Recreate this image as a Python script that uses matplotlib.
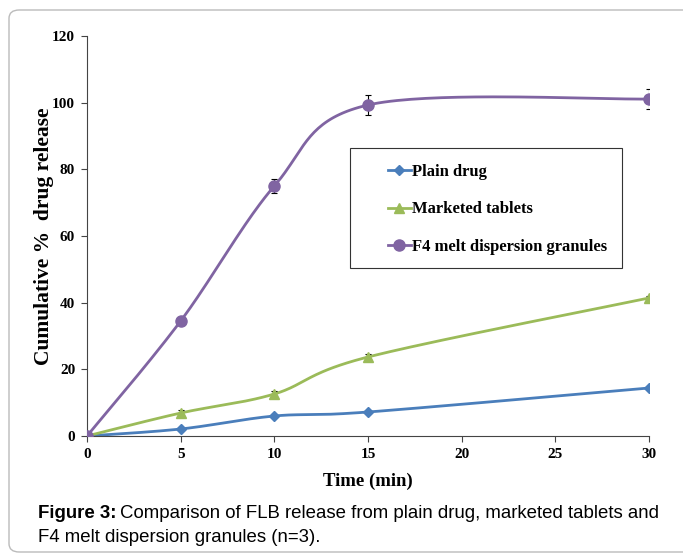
import numpy as np
import matplotlib
matplotlib.use("Agg")
import matplotlib.pyplot as plt
from matplotlib.patches import FancyBboxPatch, Rectangle

time_min = [0, 5, 10, 15, 30]
plain = [0, 2.1, 6.0, 7.2, 14.4]
plain_err = [0, 0, 0, 0, 0]
marketed = [0, 6.9, 12.6, 23.7, 41.4]
marketed_err = [0, 0.8, 1.0, 1.0, 0.6]
f4 = [0, 34.5, 75.0, 99.3, 101.1]
f4_err = [0, 0.8, 2.0, 3.0, 3.0]

labels = ["Plain drug", "Marketed tablets", "F4 melt dispersion granules"]
colours = ["#4a7ebb", "#9bbb59", "#8064a2"]
markers = ["D", "^", "o"]
msizes = [5, 7, 8]


def smooth(x, y, sx=18.73, sy=3.333, n=40):
    # excel-like smoothed line: cubic bezier, catmull-rom control points in screen scale
    p = np.column_stack([np.array(x) * sx, np.array(y) * sy])
    out = []
    for i in range(len(p) - 1):
        p0 = p[i - 1] if i > 0 else p[i]
        p1, p2 = p[i], p[i + 1]
        p3 = p[i + 2] if i + 2 < len(p) else p[i + 1]
        c1 = p1 + (p2 - p0) / 6
        c2 = p2 - (p3 - p1) / 6
        t = np.linspace(0, 1, n)[:, None]
        seg = (1 - t) ** 3 * p1 + 3 * (1 - t) ** 2 * t * c1 + 3 * (1 - t) * t ** 2 * c2 + t ** 3 * p2
        out.append(seg)
    s = np.vstack(out)
    return s[:, 0] / sx, s[:, 1] / sy


fig = plt.figure(figsize=(6.83, 5.55), dpi=100)

# rounded frame around the figure
frame = FancyBboxPatch((9 / 683, 3 / 555), 700 / 683, 542 / 555,
                       boxstyle="round,pad=0,rounding_size=0.015",
                       transform=fig.transFigure, fill=False,
                       edgecolor="#bbbbbb", linewidth=1.0)
fig.patches.append(frame)

ax = fig.add_axes([87 / 683, 1 - 436 / 555, 562 / 683, 400 / 555])

series = [(plain, plain_err), (marketed, marketed_err), (f4, f4_err)]
handles = []
for (vals, err), lab, c, m, ms in zip(series, labels, colours, markers, msizes):
    sx, sy = smooth(time_min, vals)
    ax.plot(sx, sy, color=c, lw=2, zorder=2)
    ax.errorbar(time_min, vals, yerr=err, fmt="none", ecolor="black",
                elinewidth=0.8, capsize=2.5, capthick=0.8, zorder=3)
    ax.plot(time_min, vals, ls="none", marker=m, ms=ms, color=c, zorder=4)
    h, = ax.plot([], [], color=c, lw=2, marker=m, ms=ms)
    handles.append(h)

ax.set_xlim(0, 30)
ax.set_ylim(0, 120)
ax.set_xticks([0, 5, 10, 15, 20, 25, 30])
ax.set_yticks([0, 20, 40, 60, 80, 100, 120])
ax.spines["top"].set_visible(False)
ax.spines["right"].set_visible(False)
ax.spines["left"].set_color("#444444")
ax.spines["bottom"].set_color("#444444")
ax.tick_params(direction="out", length=4, color="#444444")
ax.tick_params(axis="x", pad=5)
ax.tick_params(axis="y", pad=4.5)
for t in ax.get_xticklabels() + ax.get_yticklabels():
    t.set_fontfamily("Liberation Serif")
    t.set_fontweight("bold")
    t.set_fontsize(11)

ax.set_xlabel("Time (min)", fontfamily="Liberation Serif", fontweight="bold",
              fontsize=13.5, labelpad=8)
ax.set_ylabel("Cumulative %  drug release", fontfamily="Liberation Serif",
              fontweight="bold", fontsize=15.5)
ax.yaxis.set_label_coords(-0.058, 0.5)

# legend box drawn separately, entries inside without frame
ax.add_patch(Rectangle((263 / 562, 168 / 400), 272 / 562, 120 / 400,
                       transform=ax.transAxes, fill=False,
                       edgecolor="#333333", lw=0.8, zorder=5))
leg = ax.legend(handles, labels, loc="upper left",
                bbox_to_anchor=(288 / 562, 0.712),
                frameon=False,
                prop={"family": "Liberation Serif", "weight": "bold", "size": 12},
                handlelength=1.4, handletextpad=0.05, labelspacing=1.3,
                borderpad=0.75, borderaxespad=0)

cap1 = fig.text(38 / 683, 1 - 514 / 555, "Figure 3:", fontsize=13.4,
                fontfamily="Liberation Sans", fontweight="bold", va="center")
fig.canvas.draw()
bb = cap1.get_window_extent()
fig.text(bb.x1 / fig.bbox.width + 4 / 683, 1 - 514 / 555,
         "Comparison of FLB release from plain drug, marketed tablets and",
         fontsize=13.4, fontfamily="Liberation Sans", va="center")
fig.text(38 / 683, 1 - 537 / 555, "F4 melt dispersion granules (n=3).",
         fontsize=13.4, fontfamily="Liberation Sans", va="center")

fig.savefig("out.png", dpi=100)
